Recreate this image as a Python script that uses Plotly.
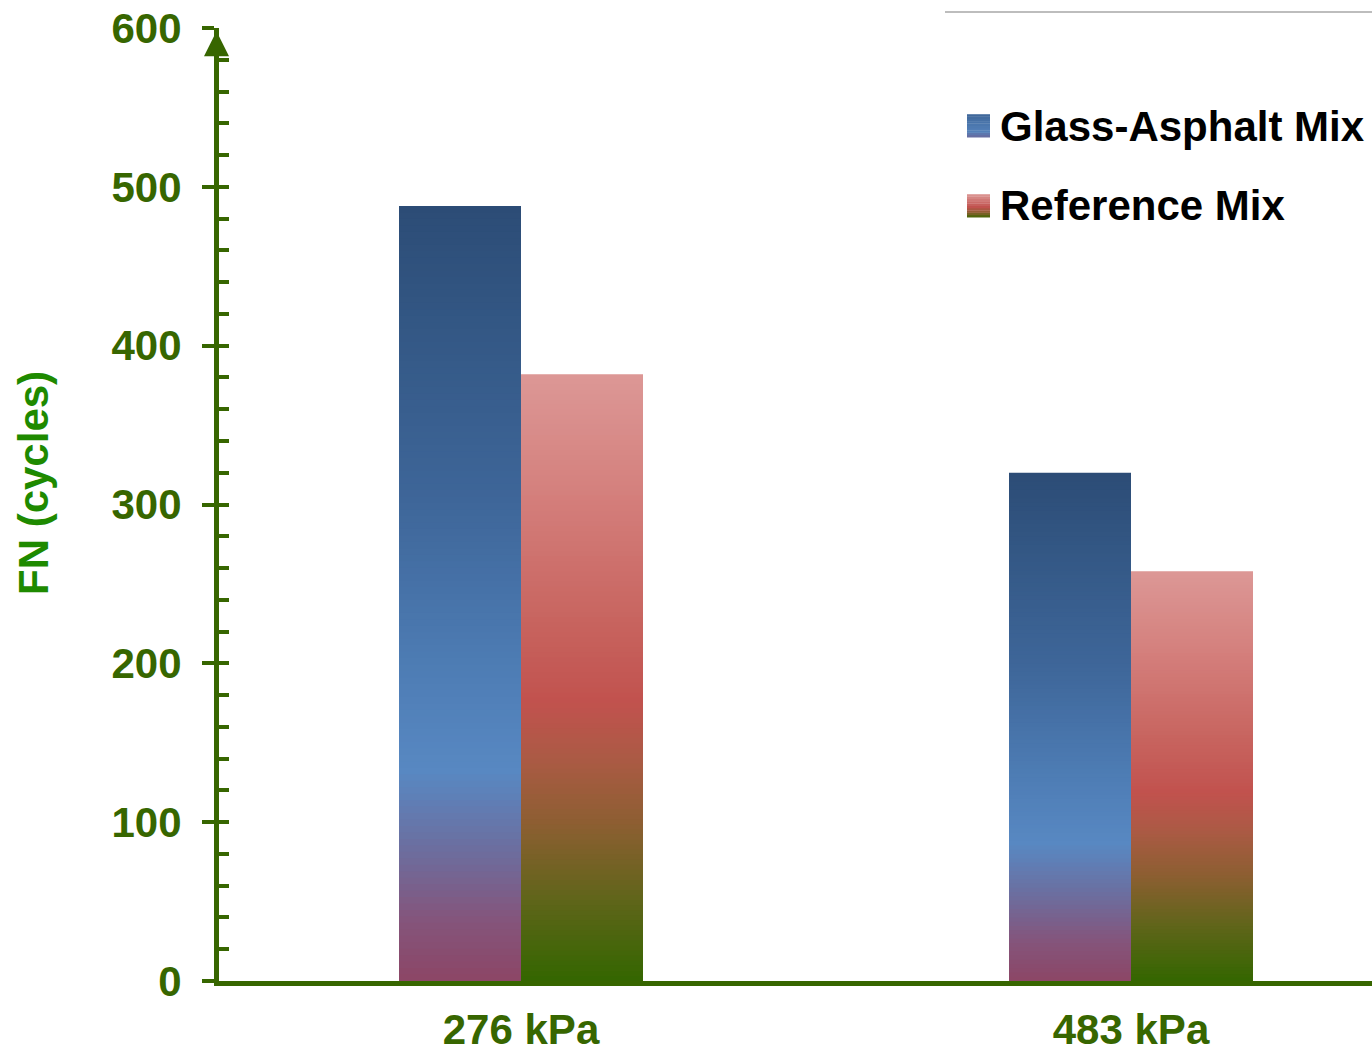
import plotly.graph_objects as go

# ---- data -------------------------------------------------------------
categories = ["276 kPa", "483 kPa"]
glass_asphalt = [488, 320]
reference_mix = [382, 258]
y_ticks = [0, 100, 200, 300, 400, 500, 600]

# ---- style --------------------------------------------------------------
FONT = "Liberation Sans, Arial, sans-serif"
AXIS_GREEN = "#376600"
TITLE_GREEN = "#1E8A00"
N_SLICES = 120
BAR_W = 0.2
Y_RANGE = [0, 600]

plot_left, plot_top, plot_bottom = 219, 28, 981
plot_w, plot_h = 1372 - plot_left, plot_bottom - plot_top
unit_px, first_center_px = 610, 521
X_RANGE = [-(first_center_px - plot_left) / unit_px,
           -(first_center_px - plot_left) / unit_px + plot_w / unit_px]

# vertical colour ramps (fraction of bar height -> colour), bottom to top
glass_stops = [(0.00, "#8C4666"), (0.08, "#84557C"), (0.17, "#6C6E9F"),
               (0.27, "#5888C2"), (0.40, "#4E7DB5"), (0.62, "#3E6699"),
               (0.85, "#335784"), (1.00, "#2C4C76")]
ref_stops = [(0.00, "#346600"), (0.13, "#5E6519"), (0.25, "#8A5F30"),
             (0.37, "#AC5A45"), (0.46, "#C1524E"), (0.60, "#C86560"),
             (0.80, "#D47F7C"), (1.00, "#DC9896")]
# legend swatch ramps
glass_swatch = [(0.00, "#6A6A9C"), (0.25, "#5480B8"), (0.60, "#4A76AC"), (1.00, "#3F6699")]
ref_swatch = [(0.00, "#3C6600"), (0.20, "#8A5F30"), (0.45, "#C1524E"), (1.00, "#DC9896")]


def hex2rgb(h):
    h = h.lstrip("#")
    return [int(h[i:i + 2], 16) for i in (0, 2, 4)]


def ramp(stops, t):
    for (t0, c0), (t1, c1) in zip(stops[:-1], stops[1:]):
        if t <= t1:
            f = 0 if t1 == t0 else (t - t0) / (t1 - t0)
            a, b = hex2rgb(c0), hex2rgb(c1)
            return "rgb({},{},{})".format(*[round(a[i] + (b[i] - a[i]) * f) for i in range(3)])
    return stops[-1][1]


x_pos = list(range(len(categories)))

fig = go.Figure()


def add_gradient_bars(values, stops, offset, name):
    # each bar is built from thin stacked slices, coloured along the ramp
    for k in range(N_SLICES):
        last = k == N_SLICES - 1
        seg = [v / N_SLICES * (1 if last else 1.6) for v in values]
        base = [v * k / N_SLICES for v in values]
        fig.add_trace(go.Bar(
            x=x_pos, y=seg, base=base, width=BAR_W, offset=offset,
            marker=dict(color=ramp(stops, (k + 0.5) / N_SLICES), line=dict(width=0)),
            name=name, showlegend=False, hoverinfo="skip",
        ))


add_gradient_bars(glass_asphalt, glass_stops, -BAR_W, "Glass-Asphalt Mix")
add_gradient_bars(reference_mix, ref_stops, 0, "Reference Mix")

# invisible trace so the overlaid minor-tick axis is rendered
fig.add_trace(go.Scatter(x=[x_pos[0]], y=[0], yaxis="y2", mode="markers",
                         marker=dict(opacity=0), showlegend=False, hoverinfo="skip"))


def px_x(px):
    return (px - plot_left) / plot_w


def px_y(py):
    return 1 - (py - plot_top) / plot_h


shapes = [dict(type="line", xref="paper", yref="paper", x0=px_x(945), x1=1.0,
               y0=px_y(12), y1=px_y(12), line=dict(color="#BDBDBD", width=2))]
annotations = []

# legend built from swatches + labels
legend_items = [("Glass-Asphalt Mix", glass_swatch, 126), ("Reference Mix", ref_swatch, 206)]
for label, stops, cy in legend_items:
    n = 10
    for k in range(n):
        y_lo = cy + 11.5 - k * 23 / n
        y_hi = cy + 11.5 - (k + 1) * 23 / n
        shapes.append(dict(type="rect", xref="paper", yref="paper",
                           x0=px_x(967), x1=px_x(990), y0=px_y(y_lo), y1=px_y(y_hi) + 0.0003,
                           fillcolor=ramp(stops, (k + 0.5) / n), line=dict(width=0)))
    annotations.append(dict(text=label, xref="paper", yref="paper", x=px_x(998), y=px_y(cy),
                            xanchor="left", yanchor="middle", showarrow=False,
                            font=dict(family=FONT, size=42, color="#000000", weight="bold")))

# axis title
annotations.append(dict(text="FN (cycles)", xref="paper", yref="paper", x=px_x(33), y=px_y(483),
                        textangle=-90, showarrow=False, xanchor="center", yanchor="middle",
                        font=dict(family=FONT, size=42, color=TITLE_GREEN, weight="bold")))

# arrowhead at the top of the value axis
annotations.append(dict(text="", xref="paper", yref="y", x=0, y=Y_RANGE[1] - 2, xshift=-2.5,
                        ax=0, ay=40, showarrow=True, arrowhead=2, arrowsize=1.0,
                        arrowwidth=5, arrowcolor=AXIS_GREEN))

fig.update_layout(
    width=1372, height=1052,
    margin=dict(l=plot_left, r=0, t=plot_top, b=1052 - plot_bottom, autoexpand=False),
    paper_bgcolor="white", plot_bgcolor="white",
    barmode="overlay", showlegend=False,
    font=dict(family=FONT),
    shapes=shapes, annotations=annotations,
    xaxis=dict(range=X_RANGE, tickvals=x_pos, ticktext=categories, automargin=False,
               showline=True, linewidth=5, linecolor=AXIS_GREEN,
               showgrid=False, zeroline=False, ticks="", ticklabelstandoff=8,
               tickfont=dict(family=FONT, size=42, color=AXIS_GREEN, weight="bold")),
    yaxis=dict(range=Y_RANGE, tickvals=y_ticks, showline=True, linewidth=5, automargin=False,
               linecolor=AXIS_GREEN, showgrid=False, zeroline=False,
               ticks="outside", ticklen=12, tickwidth=4, tickcolor=AXIS_GREEN,
               ticklabelstandoff=12,
               tickfont=dict(family=FONT, size=42, color=AXIS_GREEN, weight="bold")),
    yaxis2=dict(range=Y_RANGE, overlaying="y", side="left", anchor="x", automargin=False,
                showline=False, showgrid=False, zeroline=False,
                ticks="inside", dtick=20, tick0=0, ticklen=10, tickwidth=4,
                tickcolor=AXIS_GREEN, showticklabels=False),
)

fig.write_html("out.html")
